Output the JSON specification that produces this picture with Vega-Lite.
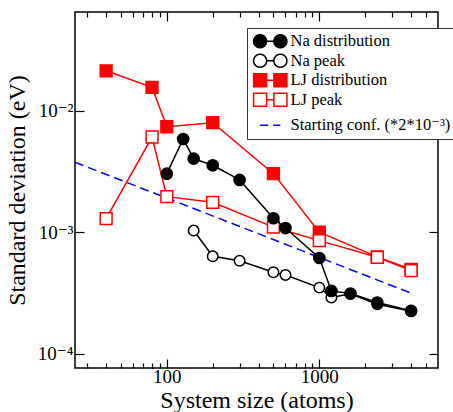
{
  "$schema": "https://vega.github.io/schema/vega-lite/v6.json",
  "width": 363,
  "height": 356,
  "autosize": {"type": "none"},
  "padding": {"left": 75, "top": 12, "right": 15, "bottom": 44},
  "background": "white",
  "config": {
    "view": {"stroke": "black", "strokeWidth": 1.5},
    "font": "Liberation Serif, Times New Roman, DejaVu Serif, serif"
  },
  "data": {
    "values": [
      {"series": "Na distribution", "x": 100, "y": 0.00303},
      {"series": "Na distribution", "x": 128, "y": 0.00585},
      {"series": "Na distribution", "x": 150, "y": 0.00403},
      {"series": "Na distribution", "x": 200, "y": 0.00355},
      {"series": "Na distribution", "x": 300, "y": 0.00269},
      {"series": "Na distribution", "x": 500, "y": 0.00130},
      {"series": "Na distribution", "x": 600, "y": 0.00108},
      {"series": "Na distribution", "x": 1000, "y": 0.000612},
      {"series": "Na distribution", "x": 1200, "y": 0.000328},
      {"series": "Na distribution", "x": 1600, "y": 0.000312},
      {"series": "Na distribution", "x": 2400, "y": 0.000263},
      {"series": "Na distribution", "x": 4000, "y": 0.000225},
      {"series": "Na peak", "x": 150, "y": 0.00103},
      {"series": "Na peak", "x": 200, "y": 0.000632},
      {"series": "Na peak", "x": 300, "y": 0.00058},
      {"series": "Na peak", "x": 500, "y": 0.000467},
      {"series": "Na peak", "x": 600, "y": 0.000444},
      {"series": "Na peak", "x": 1000, "y": 0.000349},
      {"series": "Na peak", "x": 1200, "y": 0.000289},
      {"series": "Na peak", "x": 1600, "y": 0.00031},
      {"series": "Na peak", "x": 2400, "y": 0.000255},
      {"series": "Na peak", "x": 4000, "y": 0.000223},
      {"series": "LJ distribution", "x": 40, "y": 0.0213},
      {"series": "LJ distribution", "x": 80, "y": 0.01556},
      {"series": "LJ distribution", "x": 100, "y": 0.00738},
      {"series": "LJ distribution", "x": 200, "y": 0.00797},
      {"series": "LJ distribution", "x": 500, "y": 0.00303},
      {"series": "LJ distribution", "x": 1000, "y": 0.001},
      {"series": "LJ distribution", "x": 2400, "y": 0.000625},
      {"series": "LJ distribution", "x": 4000, "y": 0.000494},
      {"series": "LJ peak", "x": 40, "y": 0.00129},
      {"series": "LJ peak", "x": 80, "y": 0.00607},
      {"series": "LJ peak", "x": 100, "y": 0.00196},
      {"series": "LJ peak", "x": 200, "y": 0.00176},
      {"series": "LJ peak", "x": 500, "y": 0.0011},
      {"series": "LJ peak", "x": 1000, "y": 0.000851},
      {"series": "LJ peak", "x": 2400, "y": 0.00062},
      {"series": "LJ peak", "x": 4000, "y": 0.000482},
      {"series": "Starting conf. (*2*10⁻³)", "x": 25, "y": 0.00376},
      {"series": "Starting conf. (*2*10⁻³)", "x": 4000, "y": 0.000314}
    ]
  },
  "resolve": {"axis": {"x": "independent", "y": "independent"}},
  "layer": [
    {
      "transform": [{"filter": "indexof(datum.series, 'Starting') == 0"}],
      "mark": {"type": "line", "strokeWidth": 1.5, "strokeDash": [9, 5]},
      "encoding": {
        "x": {
          "field": "x", "type": "quantitative",
          "scale": {"type": "log", "domain": [25, 6000], "nice": false, "zero": false},
          "axis": {
            "orient": "bottom",
            "values": [30, 40, 50, 60, 70, 80, 90, 100, 200, 300, 400, 500, 600, 700, 800, 900, 1000, 2000, 3000, 4000, 5000],
            "labelExpr": "datum.value == 100 ? '100' : datum.value == 1000 ? '1000' : ''",
            "tickSize": {"condition": {"test": "datum.value == 100 || datum.value == 1000", "value": -9}, "value": -5},
            "tickColor": "black", "tickWidth": 1.2,
            "domain": false, "grid": false,
            "labelFont": "Liberation Serif, Times New Roman, DejaVu Serif, serif", "labelFontSize": 19, "labelColor": "black",
            "labelPadding": 8, "labelFlush": false, "labelOverlap": false,
            "title": "System size (atoms)",
            "titleFont": "Liberation Serif, Times New Roman, DejaVu Serif, serif", "titleFontSize": 24, "titleFontWeight": "normal", "titleColor": "black",
            "titlePadding": -2
          }
        },
        "y": {
          "field": "y", "type": "quantitative",
          "scale": {"type": "log", "domain": [0.000076, 0.065], "nice": false, "zero": false},
          "axis": {
            "orient": "left",
            "values": [0.0001, 0.001, 0.01],
            "labelExpr": "datum.value >= 0.005 ? '10⁻²' : datum.value >= 0.0005 ? '10⁻³' : '10⁻⁴'",
            "tickSize": -9, "tickColor": "black", "tickWidth": 1.2,
            "domain": false, "grid": false,
            "labelFont": "Liberation Serif, Times New Roman, DejaVu Serif, serif", "labelFontSize": 19, "labelColor": "black",
            "labelPadding": 11, "labelFlush": false, "labelOverlap": false,
            "title": "Standard deviation (eV)",
            "titleFont": "Liberation Serif, Times New Roman, DejaVu Serif, serif", "titleFontSize": 24, "titleFontWeight": "normal", "titleColor": "black",
            "titlePadding": 8
          }
        },
        "stroke": {
          "field": "series", "type": "nominal",
          "scale": {
            "domain": ["Na distribution", "Na peak", "LJ distribution", "LJ peak", "Starting conf. (*2*10⁻³)"],
            "range": ["black", "black", "red", "red", "blue"]
          },
          "legend": {
            "orient": "none", "legendX": 172, "legendY": 16,
            "title": null,
            "fillColor": "white", "strokeColor": "#333", "padding": 5,
            "labelFont": "Liberation Serif, Times New Roman, DejaVu Serif, serif", "labelFontSize": 16.5, "labelColor": "black",
            "labelLimit": 400,
            "symbolSize": 196, "symbolOffset": 10, "labelOffset": 12, "rowPadding": -0.5,
            "encode": {
              "symbols": {
                "update": {
                  "shape": {"signal": "indexof(datum.value, 'Na') == 0 ? 'M -2.38,0 A 0.93,0.93 0 1,1 -0.52,0 A 0.93,0.93 0 1,1 -2.38,0 Z M -0.52,0 L 0.52,0 M 0.52,0 A 0.93,0.93 0 1,1 2.38,0 A 0.93,0.93 0 1,1 0.52,0 Z' : indexof(datum.value, 'LJ') == 0 ? 'M -2.38,-0.93 H -0.52 V 0.93 H -2.38 Z M -0.52,0 H 0.52 M 0.52,-0.93 H 2.38 V 0.93 H 0.52 Z' : 'M -1.45,1.07 H 1.45'"},
                  "strokeDash": {"signal": "indexof(datum.value, 'Starting') == 0 ? [8, 5] : [1, 0]"},
                  "strokeWidth": {"value": 1.5},
                  "size": {"value": 196},
                  "opacity": {"value": 1}
                }
              },
              "labels": {
                "update": {
                  "dy": {"signal": "indexof(datum.value, 'Starting') == 0 ? 7 : 0"}
                }
              }
            }
          }
        }
      }
    },
    {
      "transform": [{"filter": "datum.series == 'LJ distribution'"}],
      "mark": {"type": "line", "strokeWidth": 1.5},
      "encoding": {
        "x": {
          "field": "x", "type": "quantitative",
          "axis": {
            "orient": "top",
            "values": [30, 40, 50, 60, 70, 80, 90, 100, 200, 300, 400, 500, 600, 700, 800, 900, 1000, 2000, 3000, 4000, 5000],
            "labels": false, "title": null, "domain": false, "grid": false,
            "tickSize": {"condition": {"test": "datum.value == 100 || datum.value == 1000", "value": -9}, "value": -5},
            "tickColor": "black", "tickWidth": 1.2
          }
        },
        "y": {
          "field": "y", "type": "quantitative",
          "axis": {
            "orient": "right",
            "values": [0.0001, 0.001, 0.01],
            "labels": false, "title": null, "domain": false, "grid": false,
            "tickSize": -9, "tickColor": "black", "tickWidth": 1.2
          }
        },
        "stroke": {"field": "series", "type": "nominal"}
      }
    },
    {
      "transform": [{"filter": "datum.series == 'LJ distribution'"}],
      "mark": {"type": "point", "shape": "square", "size": 140, "strokeWidth": 1.5, "opacity": 1},
      "encoding": {
        "x": {"field": "x", "type": "quantitative", "axis": null},
        "y": {"field": "y", "type": "quantitative", "axis": null},
        "stroke": {"field": "series", "type": "nominal"},
        "fill": {
          "field": "series", "type": "nominal",
          "scale": {
            "domain": ["Na distribution", "Na peak", "LJ distribution", "LJ peak", "Starting conf. (*2*10⁻³)"],
            "range": ["black", "white", "red", "white", "white"]
          }
        }
      }
    },
    {
      "transform": [{"filter": "datum.series == 'LJ peak'"}],
      "mark": {"type": "line", "strokeWidth": 1.5},
      "encoding": {
        "x": {"field": "x", "type": "quantitative", "axis": null},
        "y": {"field": "y", "type": "quantitative", "axis": null},
        "stroke": {"field": "series", "type": "nominal"}
      }
    },
    {
      "transform": [{"filter": "datum.series == 'LJ peak'"}],
      "mark": {"type": "point", "shape": "square", "size": 140, "strokeWidth": 1.5, "opacity": 1},
      "encoding": {
        "x": {"field": "x", "type": "quantitative", "axis": null},
        "y": {"field": "y", "type": "quantitative", "axis": null},
        "stroke": {"field": "series", "type": "nominal"},
        "fill": {"field": "series", "type": "nominal"}
      }
    },
    {
      "transform": [{"filter": "datum.series == 'Na peak'"}],
      "mark": {"type": "line", "strokeWidth": 1.5},
      "encoding": {
        "x": {"field": "x", "type": "quantitative", "axis": null},
        "y": {"field": "y", "type": "quantitative", "axis": null},
        "stroke": {"field": "series", "type": "nominal"}
      }
    },
    {
      "transform": [{"filter": "datum.series == 'Na peak'"}],
      "mark": {"type": "point", "shape": "circle", "size": 110, "strokeWidth": 1.5, "opacity": 1},
      "encoding": {
        "x": {"field": "x", "type": "quantitative", "axis": null},
        "y": {"field": "y", "type": "quantitative", "axis": null},
        "stroke": {"field": "series", "type": "nominal"},
        "fill": {"field": "series", "type": "nominal"}
      }
    },
    {
      "transform": [{"filter": "datum.series == 'Na distribution'"}],
      "mark": {"type": "line", "strokeWidth": 1.5},
      "encoding": {
        "x": {"field": "x", "type": "quantitative", "axis": null},
        "y": {"field": "y", "type": "quantitative", "axis": null},
        "stroke": {"field": "series", "type": "nominal"}
      }
    },
    {
      "transform": [{"filter": "datum.series == 'Na distribution'"}],
      "mark": {"type": "point", "shape": "circle", "size": 125, "strokeWidth": 1.5, "opacity": 1},
      "encoding": {
        "x": {"field": "x", "type": "quantitative", "axis": null},
        "y": {"field": "y", "type": "quantitative", "axis": null},
        "stroke": {"field": "series", "type": "nominal"},
        "fill": {"field": "series", "type": "nominal"}
      }
    }
  ]
}
